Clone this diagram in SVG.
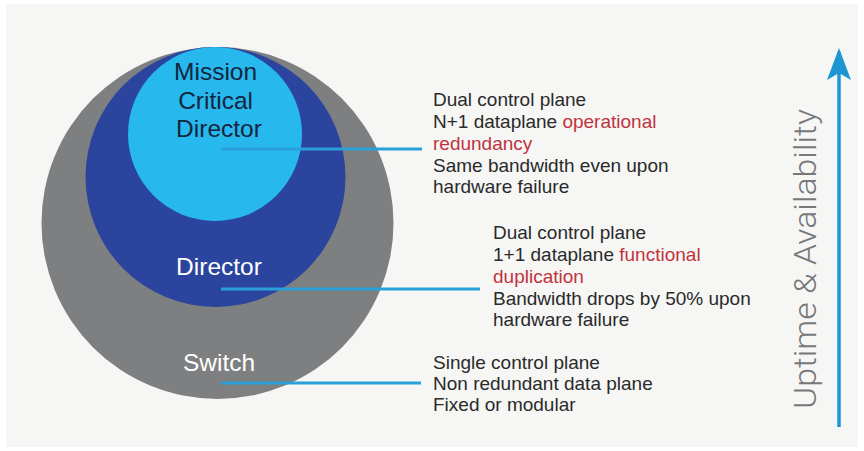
<svg xmlns="http://www.w3.org/2000/svg" width="864" height="451" viewBox="0 0 864 451">
  <defs>
    <style>
      .body { font-family: "Liberation Sans", Arial, sans-serif; font-size: 19px; fill: #2a2a2a; }
      .hl { fill: #c0333d; }
      .ring-label { font-family: "Liberation Sans", Arial, sans-serif; font-size: 24.5px; text-anchor: middle; }
      .leader { stroke: #2a9fd8; stroke-width: 3; fill: none; }
    </style>
    <marker id="arrowHead" viewBox="0 0 32 24" refX="28" refY="12" markerWidth="32" markerHeight="24" markerUnits="userSpaceOnUse" orient="auto">
      <path d="M32 12 L0 0 L7 12 L0 24 Z" fill="#1f96d4"/>
    </marker>
  </defs>

  <!-- page background -->
  <rect x="0" y="0" width="864" height="451" fill="#ffffff"/>
  <rect x="6" y="4" width="852" height="443" fill="#f6f6f5"/>

  <!-- nested tiers -->
  <g id="switch">
    <circle cx="217.5" cy="223" r="176" fill="#7e7f81"/>
    <text class="ring-label" x="219" y="370.5" fill="#ffffff">Switch</text>
  </g>
  <g id="director">
    <circle cx="215.5" cy="177" r="130" fill="#2b449d"/>
    <text class="ring-label" x="219" y="275" fill="#ffffff">Director</text>
  </g>
  <g id="mission-critical-director">
    <circle cx="215" cy="134" r="87" fill="#27b8ee"/>
    <text class="ring-label" fill="#13263d">
      <tspan x="219" y="80">Mission</tspan>
      <tspan x="219" y="108.5">Critical</tspan>
      <tspan x="219" y="137">Director</tspan>
    </text>
  </g>

  <!-- leader lines -->
  <g id="connectors">
    <line class="leader" x1="221" y1="149" x2="422" y2="149"/>
    <line class="leader" x1="221" y1="289" x2="480" y2="289"/>
    <line class="leader" x1="221" y1="383" x2="421" y2="383"/>
  </g>

  <!-- descriptions -->
  <g id="desc-mission-critical">
    <text class="body" x="433" y="106">Dual control plane</text>
    <text class="body" x="433" y="128">N+1 dataplane <tspan class="hl">operational</tspan></text>
    <text class="body hl" x="433" y="150">redundancy</text>
    <text class="body" x="433" y="171.5">Same bandwidth even upon</text>
    <text class="body" x="433" y="193">hardware failure</text>
  </g>
  <g id="desc-director">
    <text class="body" x="493" y="239">Dual control plane</text>
    <text class="body" x="493" y="261">1+1 dataplane <tspan class="hl">functional</tspan></text>
    <text class="body hl" x="493" y="283">duplication</text>
    <text class="body" x="493" y="304.5">Bandwidth drops by 50% upon</text>
    <text class="body" x="493" y="326">hardware failure</text>
  </g>
  <g id="desc-switch">
    <text class="body" x="433" y="368.5">Single control plane</text>
    <text class="body" x="433" y="389.5">Non redundant data plane</text>
    <text class="body" x="433" y="411">Fixed or modular</text>
  </g>

  <!-- availability axis -->
  <g id="axis">
    <line x1="839" y1="427" x2="839" y2="52" stroke="#1f96d4" stroke-width="3.5" marker-end="url(#arrowHead)"/>
    <text x="0" y="0" transform="translate(815.5 409) rotate(-90)" font-family="Roboto, 'Liberation Sans', sans-serif" font-weight="300" font-size="31" fill="#77787a" textLength="300" lengthAdjust="spacingAndGlyphs">Uptime &amp; Availability</text>
  </g>
</svg>
